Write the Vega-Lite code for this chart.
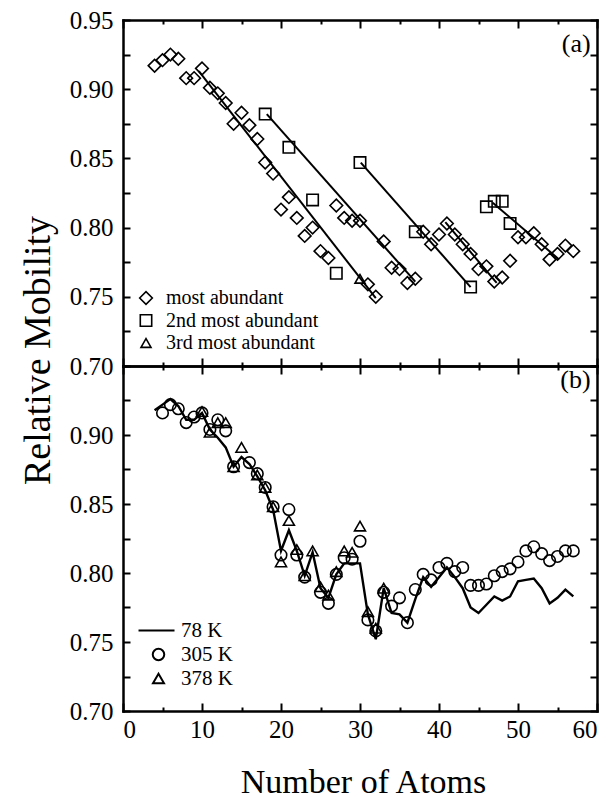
{
  "$schema": "https://vega.github.io/schema/vega-lite/v6.json",
  "width": 474,
  "height": 691,
  "autosize": {"type": "none"},
  "padding": {"left": 123, "top": 20, "right": 14, "bottom": 88},
  "background": "white",
  "config": {
    "font": "Liberation Serif",
    "view": {"stroke": null},
    "axis": {
      "domainColor": "black", "domainWidth": 2.5, "domainCap": "square",
      "tickColor": "black", "tickWidth": 2,
      "labelColor": "black", "labelFontSize": 25, "labelFont": "Liberation Serif",
      "titleFont": "Liberation Serif", "titleColor": "black", "titleFontWeight": "normal",
      "grid": false
    },
    "legend": {
      "labelFont": "Liberation Serif", "labelColor": "black", "padding": 0,
      "symbolStrokeColor": "black", "symbolFillColor": "transparent"
    }
  },
  "datasets": {
    "a_pts": [
      {"n": 4, "mob": 0.917, "series": "most abundant"},
      {"n": 5, "mob": 0.921, "series": "most abundant"},
      {"n": 6, "mob": 0.925, "series": "most abundant"},
      {"n": 7, "mob": 0.922, "series": "most abundant"},
      {"n": 8, "mob": 0.908, "series": "most abundant"},
      {"n": 9, "mob": 0.908, "series": "most abundant"},
      {"n": 10, "mob": 0.915, "series": "most abundant"},
      {"n": 11, "mob": 0.901, "series": "most abundant"},
      {"n": 12, "mob": 0.897, "series": "most abundant"},
      {"n": 13, "mob": 0.890, "series": "most abundant"},
      {"n": 14, "mob": 0.875, "series": "most abundant"},
      {"n": 15, "mob": 0.883, "series": "most abundant"},
      {"n": 16, "mob": 0.874, "series": "most abundant"},
      {"n": 17, "mob": 0.864, "series": "most abundant"},
      {"n": 18, "mob": 0.847, "series": "most abundant"},
      {"n": 19, "mob": 0.839, "series": "most abundant"},
      {"n": 20, "mob": 0.813, "series": "most abundant"},
      {"n": 21, "mob": 0.822, "series": "most abundant"},
      {"n": 22, "mob": 0.807, "series": "most abundant"},
      {"n": 23, "mob": 0.794, "series": "most abundant"},
      {"n": 24, "mob": 0.800, "series": "most abundant"},
      {"n": 25, "mob": 0.783, "series": "most abundant"},
      {"n": 26, "mob": 0.778, "series": "most abundant"},
      {"n": 27, "mob": 0.816, "series": "most abundant"},
      {"n": 28, "mob": 0.807, "series": "most abundant"},
      {"n": 29, "mob": 0.805, "series": "most abundant"},
      {"n": 30, "mob": 0.805, "series": "most abundant"},
      {"n": 31, "mob": 0.759, "series": "most abundant"},
      {"n": 32, "mob": 0.750, "series": "most abundant"},
      {"n": 33, "mob": 0.790, "series": "most abundant"},
      {"n": 34, "mob": 0.771, "series": "most abundant"},
      {"n": 35, "mob": 0.770, "series": "most abundant"},
      {"n": 36, "mob": 0.760, "series": "most abundant"},
      {"n": 37, "mob": 0.763, "series": "most abundant"},
      {"n": 38, "mob": 0.797, "series": "most abundant"},
      {"n": 39, "mob": 0.788, "series": "most abundant"},
      {"n": 40, "mob": 0.795, "series": "most abundant"},
      {"n": 41, "mob": 0.803, "series": "most abundant"},
      {"n": 42, "mob": 0.795, "series": "most abundant"},
      {"n": 43, "mob": 0.788, "series": "most abundant"},
      {"n": 44, "mob": 0.781, "series": "most abundant"},
      {"n": 45, "mob": 0.770, "series": "most abundant"},
      {"n": 46, "mob": 0.772, "series": "most abundant"},
      {"n": 47, "mob": 0.761, "series": "most abundant"},
      {"n": 48, "mob": 0.764, "series": "most abundant"},
      {"n": 49, "mob": 0.776, "series": "most abundant"},
      {"n": 50, "mob": 0.793, "series": "most abundant"},
      {"n": 51, "mob": 0.793, "series": "most abundant"},
      {"n": 52, "mob": 0.796, "series": "most abundant"},
      {"n": 53, "mob": 0.788, "series": "most abundant"},
      {"n": 54, "mob": 0.777, "series": "most abundant"},
      {"n": 55, "mob": 0.781, "series": "most abundant"},
      {"n": 56, "mob": 0.787, "series": "most abundant"},
      {"n": 57, "mob": 0.783, "series": "most abundant"},
      {"n": 18, "mob": 0.882, "series": "2nd most abundant"},
      {"n": 21, "mob": 0.858, "series": "2nd most abundant"},
      {"n": 24, "mob": 0.820, "series": "2nd most abundant"},
      {"n": 27, "mob": 0.767, "series": "2nd most abundant"},
      {"n": 30, "mob": 0.847, "series": "2nd most abundant"},
      {"n": 37, "mob": 0.797, "series": "2nd most abundant"},
      {"n": 44, "mob": 0.757, "series": "2nd most abundant"},
      {"n": 46, "mob": 0.815, "series": "2nd most abundant"},
      {"n": 47, "mob": 0.819, "series": "2nd most abundant"},
      {"n": 48, "mob": 0.819, "series": "2nd most abundant"},
      {"n": 49, "mob": 0.803, "series": "2nd most abundant"},
      {"n": 30, "mob": 0.763, "series": "3rd most abundant"}
    ],
    "a_fit": [
      {"seg": 1, "n": 9.6, "mob": 0.913}, {"seg": 1, "n": 32, "mob": 0.749},
      {"seg": 2, "n": 18.2, "mob": 0.882}, {"seg": 2, "n": 37, "mob": 0.761},
      {"seg": 3, "n": 30.1, "mob": 0.847}, {"seg": 3, "n": 44, "mob": 0.757},
      {"seg": 4, "n": 40.8, "mob": 0.804}, {"seg": 4, "n": 47.3, "mob": 0.760},
      {"seg": 5, "n": 46.8, "mob": 0.818}, {"seg": 5, "n": 55.2, "mob": 0.777}
    ],
    "b_line": [
      {"n": 4, "mob": 0.918}, {"n": 5, "mob": 0.922}, {"n": 6, "mob": 0.926}, {"n": 7, "mob": 0.921},
      {"n": 8, "mob": 0.911}, {"n": 9, "mob": 0.911}, {"n": 10, "mob": 0.916}, {"n": 11, "mob": 0.904},
      {"n": 12, "mob": 0.898}, {"n": 13, "mob": 0.891}, {"n": 14, "mob": 0.877}, {"n": 15, "mob": 0.884},
      {"n": 16, "mob": 0.879}, {"n": 17, "mob": 0.870}, {"n": 18, "mob": 0.860}, {"n": 19, "mob": 0.846},
      {"n": 20, "mob": 0.816}, {"n": 21, "mob": 0.831}, {"n": 22, "mob": 0.816}, {"n": 23, "mob": 0.798},
      {"n": 24, "mob": 0.815}, {"n": 25, "mob": 0.789}, {"n": 26, "mob": 0.782}, {"n": 27, "mob": 0.799},
      {"n": 28, "mob": 0.807}, {"n": 29, "mob": 0.807}, {"n": 30, "mob": 0.807}, {"n": 31, "mob": 0.770},
      {"n": 32, "mob": 0.752}, {"n": 33, "mob": 0.789}, {"n": 34, "mob": 0.771}, {"n": 35, "mob": 0.770},
      {"n": 36, "mob": 0.764}, {"n": 37, "mob": 0.781}, {"n": 38, "mob": 0.797}, {"n": 39, "mob": 0.790},
      {"n": 40, "mob": 0.797}, {"n": 41, "mob": 0.804}, {"n": 42, "mob": 0.797}, {"n": 43, "mob": 0.789},
      {"n": 44, "mob": 0.775}, {"n": 45, "mob": 0.771}, {"n": 46, "mob": 0.777}, {"n": 47, "mob": 0.783},
      {"n": 48, "mob": 0.780}, {"n": 49, "mob": 0.783}, {"n": 50, "mob": 0.794}, {"n": 51, "mob": 0.795},
      {"n": 52, "mob": 0.796}, {"n": 53, "mob": 0.789}, {"n": 54, "mob": 0.778}, {"n": 55, "mob": 0.782},
      {"n": 56, "mob": 0.788}, {"n": 57, "mob": 0.783}
    ],
    "b_pts": [
      {"n": 5, "mob": 0.916, "series": "305 K"}, {"n": 6, "mob": 0.922, "series": "305 K"},
      {"n": 7, "mob": 0.919, "series": "305 K"}, {"n": 8, "mob": 0.909, "series": "305 K"},
      {"n": 9, "mob": 0.913, "series": "305 K"}, {"n": 10, "mob": 0.916, "series": "305 K"},
      {"n": 11, "mob": 0.904, "series": "305 K"}, {"n": 12, "mob": 0.911, "series": "305 K"},
      {"n": 13, "mob": 0.903, "series": "305 K"}, {"n": 14, "mob": 0.877, "series": "305 K"},
      {"n": 16, "mob": 0.880, "series": "305 K"}, {"n": 17, "mob": 0.872, "series": "305 K"},
      {"n": 18, "mob": 0.862, "series": "305 K"}, {"n": 19, "mob": 0.848, "series": "305 K"},
      {"n": 20, "mob": 0.813, "series": "305 K"}, {"n": 21, "mob": 0.846, "series": "305 K"},
      {"n": 22, "mob": 0.813, "series": "305 K"}, {"n": 23, "mob": 0.797, "series": "305 K"},
      {"n": 25, "mob": 0.786, "series": "305 K"}, {"n": 26, "mob": 0.778, "series": "305 K"},
      {"n": 27, "mob": 0.799, "series": "305 K"}, {"n": 28, "mob": 0.811, "series": "305 K"},
      {"n": 29, "mob": 0.810, "series": "305 K"}, {"n": 30, "mob": 0.823, "series": "305 K"},
      {"n": 31, "mob": 0.766, "series": "305 K"}, {"n": 32, "mob": 0.758, "series": "305 K"},
      {"n": 33, "mob": 0.786, "series": "305 K"}, {"n": 34, "mob": 0.776, "series": "305 K"},
      {"n": 35, "mob": 0.782, "series": "305 K"}, {"n": 36, "mob": 0.764, "series": "305 K"},
      {"n": 37, "mob": 0.788, "series": "305 K"}, {"n": 38, "mob": 0.799, "series": "305 K"},
      {"n": 39, "mob": 0.795, "series": "305 K"}, {"n": 40, "mob": 0.804, "series": "305 K"},
      {"n": 41, "mob": 0.807, "series": "305 K"}, {"n": 42, "mob": 0.801, "series": "305 K"},
      {"n": 43, "mob": 0.804, "series": "305 K"}, {"n": 44, "mob": 0.791, "series": "305 K"},
      {"n": 45, "mob": 0.791, "series": "305 K"}, {"n": 46, "mob": 0.792, "series": "305 K"},
      {"n": 47, "mob": 0.798, "series": "305 K"}, {"n": 48, "mob": 0.801, "series": "305 K"},
      {"n": 49, "mob": 0.803, "series": "305 K"}, {"n": 50, "mob": 0.808, "series": "305 K"},
      {"n": 51, "mob": 0.816, "series": "305 K"}, {"n": 52, "mob": 0.819, "series": "305 K"},
      {"n": 53, "mob": 0.814, "series": "305 K"}, {"n": 54, "mob": 0.809, "series": "305 K"},
      {"n": 55, "mob": 0.812, "series": "305 K"}, {"n": 56, "mob": 0.816, "series": "305 K"},
      {"n": 57, "mob": 0.816, "series": "305 K"},
      {"n": 10, "mob": 0.917, "series": "378 K"}, {"n": 11, "mob": 0.902, "series": "378 K"},
      {"n": 12, "mob": 0.909, "series": "378 K"}, {"n": 13, "mob": 0.909, "series": "378 K"},
      {"n": 14, "mob": 0.877, "series": "378 K"}, {"n": 15, "mob": 0.891, "series": "378 K"},
      {"n": 17, "mob": 0.871, "series": "378 K"}, {"n": 18, "mob": 0.862, "series": "378 K"},
      {"n": 19, "mob": 0.848, "series": "378 K"}, {"n": 20, "mob": 0.808, "series": "378 K"},
      {"n": 21, "mob": 0.838, "series": "378 K"}, {"n": 22, "mob": 0.817, "series": "378 K"},
      {"n": 23, "mob": 0.798, "series": "378 K"}, {"n": 24, "mob": 0.816, "series": "378 K"},
      {"n": 25, "mob": 0.790, "series": "378 K"}, {"n": 26, "mob": 0.784, "series": "378 K"},
      {"n": 27, "mob": 0.801, "series": "378 K"}, {"n": 28, "mob": 0.816, "series": "378 K"},
      {"n": 29, "mob": 0.815, "series": "378 K"}, {"n": 30, "mob": 0.834, "series": "378 K"},
      {"n": 31, "mob": 0.772, "series": "378 K"}, {"n": 32, "mob": 0.760, "series": "378 K"},
      {"n": 33, "mob": 0.789, "series": "378 K"}
    ],
    "labels_a": [{"label": "(a)"}],
    "labels_b": [{"label": "(b)"}]
  },
  "layer": [
    {
      "data": {"name": "a_pts"},
      "mark": {"type": "point", "filled": false, "color": "black", "strokeWidth": 1.6, "opacity": 1},
      "encoding": {
        "x": {"field": "n", "type": "quantitative", "scale": {"domain": [0, 60], "nice": false},
          "axis": {"orient": "top", "values": [0,5,10,15,20,25,30,35,40,45,50,55,60], "labels": false, "title": null,
            "tickSize": {"condition": {"test": "datum.value % 10 === 0", "value": -8}, "value": -4}}},
        "y": {"field": "mob", "type": "quantitative", "scale": {"domain": [0.70, 0.95], "range": [346, 0], "nice": false, "zero": false},
          "axis": {"orient": "left", "values": [0.70,0.725,0.75,0.775,0.80,0.825,0.85,0.875,0.90,0.925,0.95], "format": ".2f",
            "labelExpr": "round(datum.value*40) % 2 === 0 ? datum.label : ''", "tickSize": -7, "labelPadding": 17,
            "title": "Relative Mobility", "titleFontSize": 38, "titleX": -66, "titleY": 330, "titleAngle": -90, "titleAlign": "center", "titleBaseline": "bottom"}},
        "shape": {"field": "series", "type": "nominal",
          "scale": {"domain": ["most abundant", "2nd most abundant", "3rd most abundant"], "range": ["diamond", "square", "triangle-up"]},
          "legend": {"orient": "none", "legendX": 13, "legendY": 268, "title": null, "labelFontSize": 20, "labelOffset": 10, "rowPadding": 2.5, "symbolStrokeWidth": 1.6}},
        "size": {"field": "series", "type": "nominal",
          "scale": {"domain": ["most abundant", "2nd most abundant", "3rd most abundant"], "range": [160, 100, 196]},
          "legend": {"orient": "none", "legendX": 13, "legendY": 268, "title": null, "labelFontSize": 20, "labelOffset": 10, "rowPadding": 2.5, "symbolStrokeWidth": 1.6}}
      }
    },
    {
      "data": {"name": "a_fit"},
      "mark": {"type": "line", "color": "black", "strokeWidth": 2},
      "encoding": {
        "x": {"field": "n", "type": "quantitative", "scale": {"domain": [0, 60], "nice": false},
          "axis": {"orient": "bottom", "offset": -345, "values": [0,5,10,15,20,25,30,35,40,45,50,55,60], "labels": false, "title": null,
            "tickSize": {"condition": {"test": "datum.value % 10 === 0", "value": -8}, "value": -4}}},
        "y": {"field": "mob", "type": "quantitative", "scale": {"domain": [0.70, 0.95], "range": [346, 0], "nice": false, "zero": false},
          "axis": {"orient": "right", "values": [0.70,0.725,0.75,0.775,0.80,0.825,0.85,0.875,0.90,0.925,0.95], "labels": false, "tickSize": -7, "title": null}},
        "detail": {"field": "seg", "type": "nominal"}
      }
    },
    {
      "data": {"name": "b_line"},
      "mark": {"type": "line", "color": "black", "strokeWidth": 2.4},
      "encoding": {
        "x": {"field": "n", "type": "quantitative", "scale": {"domain": [0, 60], "nice": false},
          "axis": {"orient": "top", "offset": -346, "values": [0,5,10,15,20,25,30,35,40,45,50,55,60], "labels": false, "title": null,
            "tickSize": {"condition": {"test": "datum.value % 10 === 0", "value": -8}, "value": -4}}},
        "y": {"field": "mob", "type": "quantitative", "scale": {"domain": [0.70, 0.95], "range": [691, 346], "nice": false, "zero": false},
          "axis": {"orient": "right", "values": [0.70,0.725,0.75,0.775,0.80,0.825,0.85,0.875,0.90,0.925,0.95], "labels": false, "tickSize": -7, "title": null}}
      }
    },
    {
      "data": {"name": "b_pts"},
      "mark": {"type": "point", "filled": false, "color": "black", "strokeWidth": 1.6, "opacity": 1},
      "encoding": {
        "x": {"field": "n", "type": "quantitative", "scale": {"domain": [0, 60], "nice": false},
          "axis": {"orient": "bottom", "values": [0,5,10,15,20,25,30,35,40,45,50,55,60],
            "labelExpr": "datum.value % 10 === 0 ? datum.label : ''", "labelPadding": 14,
            "tickSize": {"condition": {"test": "datum.value % 10 === 0", "value": -8}, "value": -4},
            "title": "Number of Atoms", "titleFontSize": 34, "titleX": 240, "titleY": 81, "titleBaseline": "alphabetic"}},
        "y": {"field": "mob", "type": "quantitative", "scale": {"domain": [0.70, 0.95], "range": [691, 346], "nice": false, "zero": false},
          "axis": {"orient": "left", "values": [0.70,0.725,0.75,0.775,0.80,0.825,0.85,0.875,0.90,0.925,0.95], "format": ".2f",
            "labelExpr": "round(datum.value*40) % 2 === 0 && datum.value < 0.94 ? datum.label : ''", "tickSize": -7, "labelPadding": 17, "title": null}},
        "shape": {"field": "series", "type": "nominal",
          "scale": {"domain": ["78 K", "305 K", "378 K"], "range": ["M-3.33,0L2.67,0", "circle", "triangle-up"]},
          "legend": {"orient": "none", "legendX": 25, "legendY": 600, "title": null, "labelFontSize": 21, "labelOffset": 12, "rowPadding": 2, "symbolStrokeWidth": 2}},
        "size": {"field": "series", "type": "nominal",
          "scale": {"domain": ["78 K", "305 K", "378 K"], "range": [144, 121, 144]},
          "legend": {"orient": "none", "legendX": 25, "legendY": 600, "title": null, "labelFontSize": 21, "labelOffset": 12, "rowPadding": 2, "symbolStrokeWidth": 2}}
      }
    },
    {
      "data": {"name": "labels_a"},
      "mark": {"type": "text", "align": "right", "baseline": "middle", "fontSize": 26, "font": "Liberation Serif", "color": "black"},
      "encoding": {
        "x": {"datum": 59.2, "type": "quantitative", "scale": {"domain": [0, 60], "nice": false}, "axis": null},
        "y": {"datum": 0.933, "type": "quantitative", "scale": {"domain": [0.70, 0.95], "range": [346, 0], "nice": false, "zero": false}, "axis": null},
        "text": {"field": "label"}
      }
    },
    {
      "data": {"name": "labels_b"},
      "mark": {"type": "text", "align": "right", "baseline": "middle", "fontSize": 26, "font": "Liberation Serif", "color": "black"},
      "encoding": {
        "x": {"datum": 59.2, "type": "quantitative", "scale": {"domain": [0, 60], "nice": false}, "axis": null},
        "y": {"datum": 0.940, "type": "quantitative", "scale": {"domain": [0.70, 0.95], "range": [691, 346], "nice": false, "zero": false}, "axis": null},
        "text": {"field": "label"}
      }
    }
  ],
  "resolve": {
    "scale": {"y": "independent", "shape": "independent", "size": "independent"},
    "axis": {"x": "independent", "y": "independent"},
    "legend": {"shape": "independent", "size": "independent"}
  }
}
